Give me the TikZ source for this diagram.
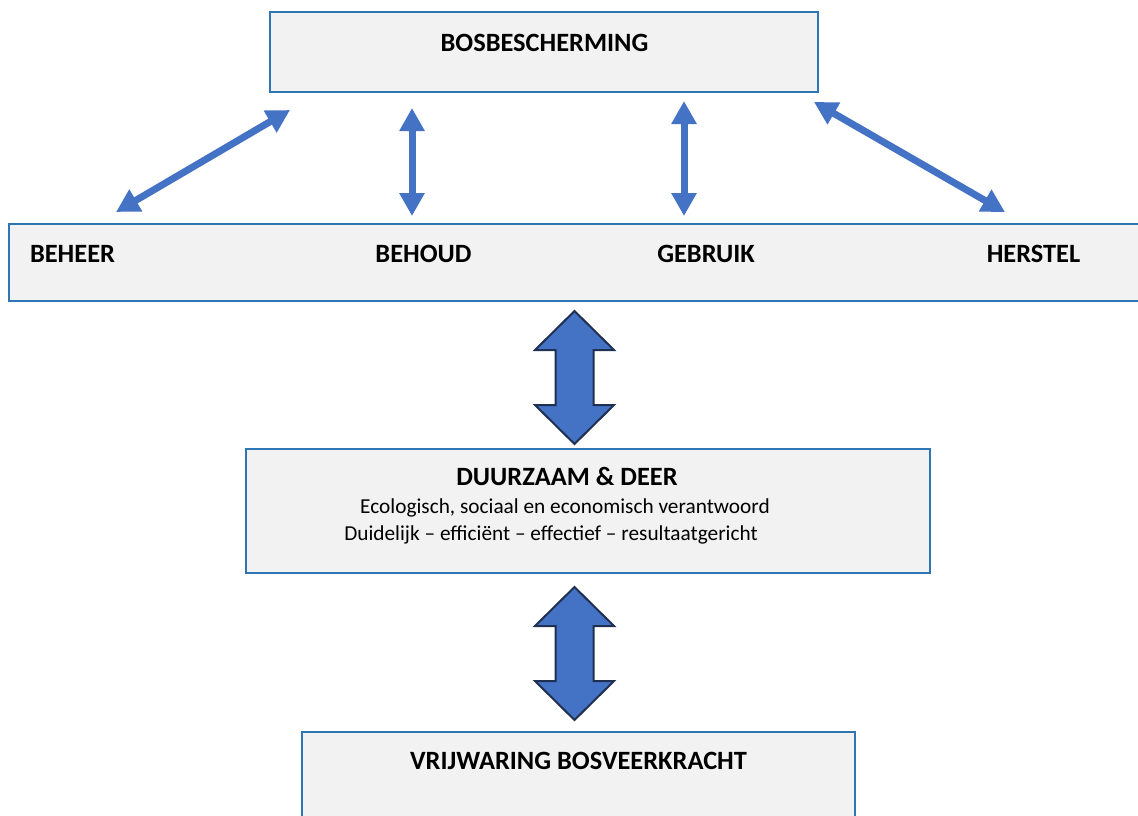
\documentclass[tikz,border=0pt]{standalone}
\usepackage{fontspec}
\setmainfont{Carlito}
\usetikzlibrary{arrows.meta}
\definecolor{boxfill}{HTML}{F2F2F2}
\definecolor{boxline}{HTML}{2E75B6}
\definecolor{arrblue}{HTML}{4472C4}
\definecolor{arredge}{HTML}{1F3050}
\begin{document}
\begin{tikzpicture}[x=1pt,y=-1pt,
  box/.style={draw=boxline,line width=1.5pt,fill=boxfill,inner sep=0pt},
  lbl/.style={font=\fontsize{26.4}{30}\selectfont\bfseries,anchor=base,inner sep=0pt},
  body/.style={font=\fontsize{21.3}{25}\selectfont,anchor=base,inner sep=0pt},
  link/.style={draw=arrblue,line width=7pt,{Triangle[length=23pt,width=24pt]}-{Triangle[length=23pt,width=24pt]}},
  blockarrow/.style={fill=arrblue,draw=arredge,line width=2pt,line join=miter},
  blockarr/.pic={\path[blockarrow] (0,-66.5) -- (39.5,-27.5) -- (19,-27.5) -- (19,27.5) -- (39.5,27.5) -- (0,66.5) -- (-39.5,27.5) -- (-19,27.5) -- (-19,-27.5) -- (-39.5,-27.5) -- cycle;}
]
\clip (0,0) rectangle (1138,815);
\fill[white] (0,0) rectangle (1138,815);
% boxes
\node[box,minimum width=548pt,minimum height=80pt] (top) at (544,52) {};
\node[box,minimum width=1160pt,minimum height=77pt] (row) at (589,262.5) {};
\node[box,minimum width=684pt,minimum height=124pt] (mid) at (588,511) {};
\node[box,minimum width=553pt,minimum height=110pt] (bot) at (578.5,787) {};
% labels
\node[lbl] (toplbl) at (544.5,51) {BOSBESCHERMING};
\node[lbl] (beheer) at (72.5,262) {BEHEER};
\node[lbl] (behoud) at (423.5,262) {BEHOUD};
\node[lbl] (gebruik) at (706,262) {GEBRUIK};
\node[lbl] (herstel) at (1033.5,262) {HERSTEL};
\node[lbl] (midlbl) at (567,485) {DUURZAAM \& DEER};
\node[body] (line2) at (565,513) {Ecologisch, sociaal en economisch verantwoord};
\node[body] (line3) at (551,540) {Duidelijk – efficiënt – effectief – resultaatgericht};
\node[lbl] (botlbl) at (578.5,769) {VRIJWARING BOSVEERKRACHT};
% connector end points
\coordinate (a1) at (116,212); \coordinate (b1) at (290,110);
\coordinate (a2) at (412,216); \coordinate (b2) at (412,108);
\coordinate (a3) at (684,216); \coordinate (b3) at (684,101);
\coordinate (a4) at (1005,212); \coordinate (b4) at (814,102);
\draw[link] (a1) -- (b1);
\draw[link] (a2) -- (b2);
\draw[link] (a3) -- (b3);
\draw[link] (a4) -- (b4);
% block arrows
\pic at (574.5,377.5) {blockarr};
\pic at (574.5,653.5) {blockarr};
\end{tikzpicture}
\end{document}
